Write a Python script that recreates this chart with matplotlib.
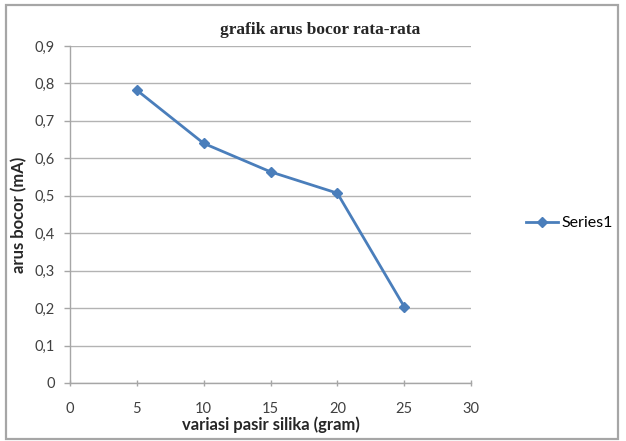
import matplotlib
matplotlib.use("Agg")
import matplotlib.pyplot as plt
from matplotlib.patches import Rectangle
from matplotlib.ticker import FuncFormatter, MultipleLocator

# Data
pasir_silika = [5, 10, 15, 20, 25]
arus_bocor = [0.782, 0.640, 0.564, 0.507, 0.204]
series_name = "Series1"
title = "grafik arus bocor rata-rata"
xlabel = "variasi pasir silika (gram)"
ylabel = "arus bocor (mA)"

W, H = 626, 441
fig = plt.figure(figsize=(W / 100, H / 100), dpi=100)
fig.patch.set_facecolor("white")

# chart frame
fig.patches.append(Rectangle((6 / W, 1 - 439 / H), 612 / W, 434 / H,
                             transform=fig.transFigure, fill=False,
                             edgecolor="#a6a6a6", linewidth=1.6))

ax = fig.add_axes([70 / W, 1 - 383 / H, 401 / W, 337 / H])
blue = "#4a7ebb"
ax.plot(pasir_silika, arus_bocor, color=blue, linewidth=2.0, marker="D",
        markersize=5.5, markerfacecolor=blue, markeredgecolor=blue,
        label=series_name, zorder=3)

ax.set_xlim(0, 30)
ax.set_ylim(0, 0.9)
ax.xaxis.set_major_locator(MultipleLocator(5))
ax.yaxis.set_major_locator(MultipleLocator(0.1))
ax.yaxis.set_major_formatter(FuncFormatter(lambda v, p: f"{v:.1f}".replace(".", ",") if v > 1e-9 else "0"))
ax.xaxis.set_major_formatter(FuncFormatter(lambda v, p: f"{v:.0f}"))

ax.grid(axis="y", color="#b3b3b3", linewidth=1.0)
ax.set_axisbelow(True)
for s in ["top", "right"]:
    ax.spines[s].set_visible(False)
for s in ["left", "bottom"]:
    ax.spines[s].set_color("#a6a6a6")
    ax.spines[s].set_linewidth(1.0)

ax.tick_params(axis="both", colors="#a6a6a6", labelcolor="#404040",
               labelsize=10.5, length=4, width=1)
ax.tick_params(axis="x", direction="inout", pad=12)
ax.tick_params(axis="y", direction="out", pad=7)
for lab in ax.get_xticklabels() + ax.get_yticklabels():
    lab.set_family("Lato")

ax.set_xlabel(xlabel, family="Lato", fontweight="bold", fontsize=12,
              color="#262626", labelpad=0)
ax.set_ylabel(ylabel, family="Lato", fontweight="bold", fontsize=12,
              color="#262626", labelpad=5)

fig.text(320 / W, 1 - 30 / H, title, ha="center", va="center",
         family="Liberation Serif", fontweight="bold", fontsize=12.5,
         color="#262626")

fig.legend(loc="center left", bbox_to_anchor=(520 / W, 1 - 223 / H),
           frameon=False, prop=dict(family="Lato", size=11.5),
           handlelength=2.0, handletextpad=0.2, borderaxespad=0)

fig.savefig("out.png", dpi=100, facecolor="white")
